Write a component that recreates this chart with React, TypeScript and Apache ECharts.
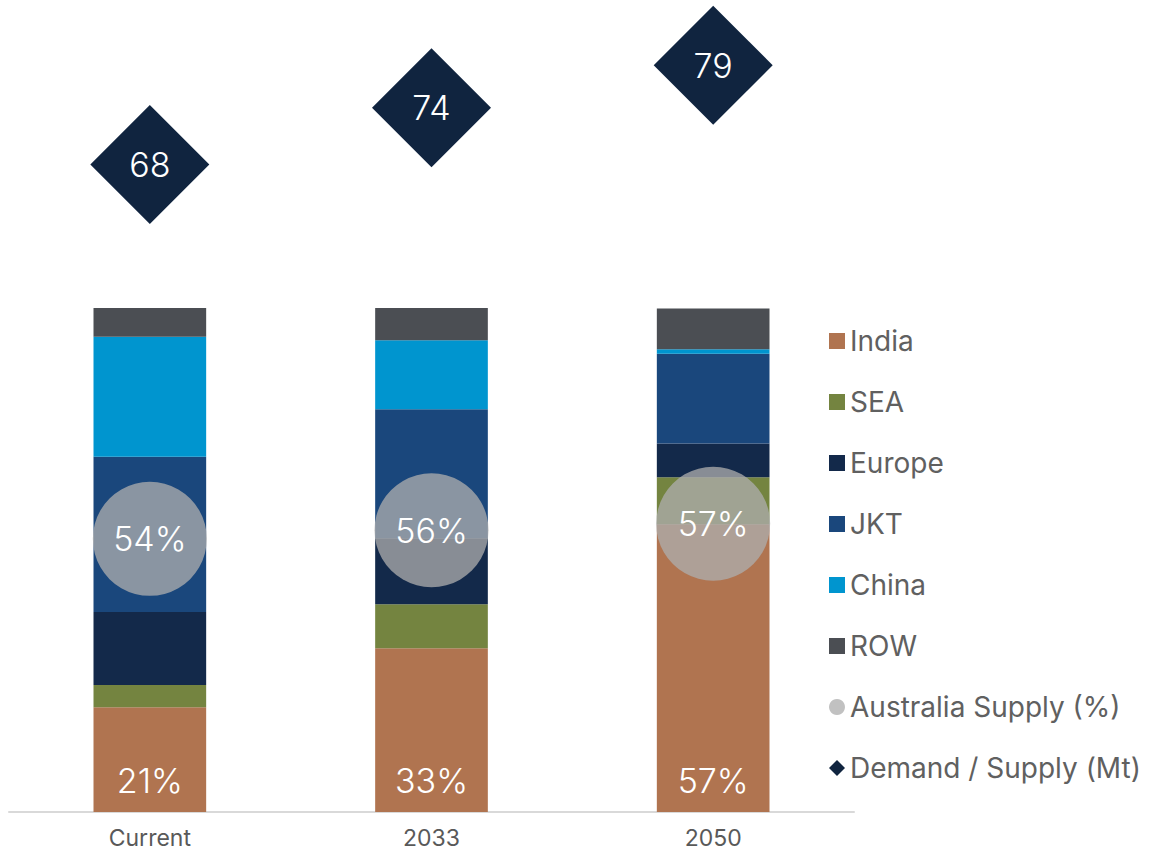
import React, { useEffect, useRef } from "react";
import * as echarts from "echarts";

const categories = ["Current", "2033", "2050"];
const india = [20.8, 32.5, 57.1];
const sea = [4.4, 8.7, 9.3];
const europe = [14.5, 13.1, 6.7];
const jkt = [30.8, 25.6, 17.8];
const china = [23.8, 13.7, 0.9];
const row = [5.7, 6.4, 8.1];
const australiaSupply = [54.2, 55.9, 57.2];
const demandSupply = [67.7, 74.1, 78.9];

const FONT = "Inter, Roboto, sans-serif";

export default function App() {
  const ref = useRef<HTMLDivElement>(null);
  useEffect(() => {
    if (!ref.current) return;
    const chart = echarts.init(ref.current, undefined, { renderer: "svg" });
    const bar = (name: string, data: number[], color: string, extra: any = {}) => ({
      name,
      type: "bar",
      stack: "total",
      xAxisIndex: 0,
      yAxisIndex: 0,
      barWidth: "40%",
      data,
      itemStyle: { color },
      emphasis: { disabled: true },
      ...extra,
    });
    chart.setOption({
      animation: false,
      textStyle: { fontFamily: FONT },
      grid: [
        { left: 9, right: 297, top: 308, bottom: 40 },
        { left: 9, right: 297, top: 55.5, bottom: 87.7 },
      ],
      xAxis: [
        {
          type: "category",
          gridIndex: 0,
          data: categories,
          axisLine: { lineStyle: { color: "#D9D9D9", width: 2 } },
          axisTick: { show: false },
          axisLabel: { color: "#595959", fontSize: 23, lineHeight: 23, margin: 14, fontFamily: FONT },
        },
        { type: "category", gridIndex: 1, data: categories, show: false },
      ],
      yAxis: [
        { type: "value", gridIndex: 0, min: 0, max: 100, show: false },
        { type: "value", gridIndex: 1, min: 0, max: 80, show: false },
      ],
      legend: {
        orient: "vertical",
        left: 824,
        top: 321,
        itemWidth: 16,
        itemHeight: 16,
        itemGap: 31,
        textStyle: { color: "#606060", fontSize: 28, fontFamily: FONT, lineHeight: 30 },
        data: [
          { name: "India", icon: "rect" },
          { name: "SEA", icon: "rect" },
          { name: "Europe", icon: "rect" },
          { name: "JKT", icon: "rect" },
          { name: "China", icon: "rect" },
          { name: "ROW", icon: "rect" },
          { name: "Australia Supply (%)", icon: "circle" },
          { name: "Demand / Supply (Mt)", icon: "diamond" },
        ],
      },
      series: [
        bar("India", india, "#B07450", {
          label: {
            show: true,
            position: "insideBottom",
            distance: 15,
            color: "#FFFFFF",
            fontSize: 34,
            fontWeight: 300,
            fontFamily: FONT,
            formatter: (p: any) => Math.round(p.value) + "%",
          },
        }),
        bar("SEA", sea, "#748440"),
        bar("Europe", europe, "#13294A"),
        bar("JKT", jkt, "#1A477C"),
        bar("China", china, "#0095CF"),
        bar("ROW", row, "#4B4E53"),
        {
          name: "Australia Supply (%)",
          type: "scatter",
          xAxisIndex: 0,
          yAxisIndex: 0,
          symbol: "circle",
          symbolSize: 114,
          z: 5,
          data: australiaSupply,
          itemStyle: { color: "rgba(174,174,174,0.76)", opacity: 1 },
          emphasis: { disabled: true },
          label: {
            show: true,
            position: "inside",
            color: "#FFFFFF",
            fontSize: 34,
            fontWeight: 300,
            fontFamily: FONT,
            formatter: (p: any) => Math.round(Array.isArray(p.value) ? p.value[1] : p.value) + "%",
          },
        },
        {
          name: "Demand / Supply (Mt)",
          type: "scatter",
          xAxisIndex: 1,
          yAxisIndex: 1,
          symbol: "diamond",
          symbolSize: 119,
          clip: false,
          z: 5,
          data: demandSupply,
          itemStyle: { color: "#10243F", opacity: 1 },
          emphasis: { disabled: true },
          label: {
            show: true,
            position: "inside",
            color: "#FFFFFF",
            fontSize: 34,
            fontWeight: 300,
            fontFamily: FONT,
            formatter: (p: any) => String(Math.round(Array.isArray(p.value) ? p.value[1] : p.value)),
          },
        },
      ],
    });
    return () => chart.dispose();
  }, []);
  return (
    <div
      ref={ref}
      style={{ position: "absolute", left: 0, top: 0, width: 1151, height: 852, background: "#FFFFFF" }}
    />
  );
}
